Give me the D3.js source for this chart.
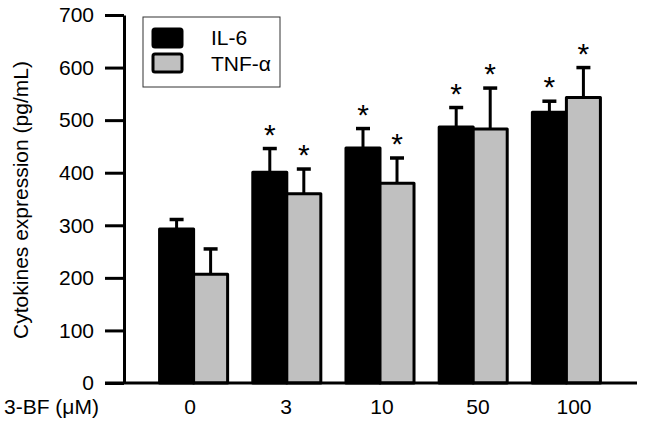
<!DOCTYPE html>
<html>
<head>
<meta charset="utf-8">
<script src="https://cdn.jsdelivr.net/npm/d3@7"></script>
<style>
  body { margin: 0; background: #fff; }
  text { font-family: "Liberation Sans", Arial, sans-serif; fill: #000; }
</style>
</head>
<body>
<div id="chart"></div>
<script>
const doses = ["0", "3", "10", "50", "100"];
const series = ["IL-6", "TNF-\u03b1"];
const il6 = [293, 401, 447, 487, 515];
const il6Err = [18, 45, 37, 37, 21];
const tnf = [207, 360, 380, 483, 543];
const tnfErr = [48, 47, 48, 78, 57];
const significant = [false, true, true, true, true];
const yTicks = [0, 100, 200, 300, 400, 500, 600, 700];

const colors = { "IL-6": "#000", "TNF-\u03b1": "#c0c0c0" };

const rows = doses.flatMap((d, i) => [
    { dose: d, s: series[0], value: il6[i], err: il6Err[i], star: significant[i] },
    { dose: d, s: series[1], value: tnf[i], err: tnfErr[i], star: significant[i] }
]);

const svg = d3.select("#chart")
    .append("svg")
    .attr("width", 646)
    .attr("height", 445);

const y = d3.scaleLinear().domain([0, 700]).range([383, 15]);
const x = d3.scaleBand().domain(doses).range([147, 613]).paddingInner(0.27).paddingOuter(0.135);
const xs = d3.scaleBand().domain(series).range([0, x.bandwidth()]);
const labelX = d3.scalePoint().domain(doses).range([190, 574]);
const mid = d => x(d.dose) + xs(d.s) + xs.bandwidth() / 2;

// bars
svg.append("g").selectAll("rect")
    .data(rows)
    .join("rect")
    .attr("x", d => x(d.dose) + xs(d.s))
    .attr("y", d => y(d.value))
    .attr("width", xs.bandwidth())
    .attr("height", d => y(0) - y(d.value))
    .attr("fill", d => colors[d.s])
    .attr("stroke", "#000")
    .attr("stroke-width", 3)
    .attr("stroke-linejoin", "round");

// error bars (upper only)
const eb = svg.append("g").attr("stroke", "#000").attr("stroke-width", 3);
eb.selectAll("line.v")
    .data(rows)
    .join("line")
    .attr("class", "v")
    .attr("x1", mid)
    .attr("x2", mid)
    .attr("y1", d => y(d.value))
    .attr("y2", d => y(d.value + d.err));
eb.selectAll("line.cap")
    .data(rows)
    .join("line")
    .attr("class", "cap")
    .attr("stroke-width", 3.5)
    .attr("x1", d => mid(d) - 7)
    .attr("x2", d => mid(d) + 7)
    .attr("y1", d => y(d.value + d.err))
    .attr("y2", d => y(d.value + d.err));

// significance stars
svg.append("g").selectAll("text")
    .data(rows.filter(d => d.star))
    .join("text")
    .attr("x", mid)
    .attr("y", d => y(d.value + d.err) - 21 + 17)
    .attr("text-anchor", "middle")
    .style("font-size", "30px")
    .text("*");

// y axis
const yAxis = svg.append("g")
    .attr("transform", "translate(124,0)")
    .call(d3.axisLeft(y).tickValues(yTicks).tickSize(19).tickPadding(11).tickSizeOuter(0));
yAxis.select(".domain").attr("stroke-width", 3);
yAxis.selectAll(".tick line").attr("stroke-width", 3);
yAxis.selectAll(".tick text").style("font-size", "21px").attr("font-family", null);

// x axis baseline
svg.append("line")
    .attr("x1", 105).attr("x2", 637)
    .attr("y1", y(0)).attr("y2", y(0))
    .attr("stroke", "#000").attr("stroke-width", 3);

// x labels
svg.append("g").selectAll("text")
    .data(doses)
    .join("text")
    .attr("x", d => labelX(d))
    .attr("y", 414)
    .attr("text-anchor", "middle")
    .style("font-size", "21px")
    .text(d => d);

svg.append("text")
    .attr("x", 4)
    .attr("y", 414)
    .style("font-size", "21px")
    .text("3-BF (\u03bcM)");

// y label
svg.append("text")
    .attr("transform", "translate(28,200) rotate(-90)")
    .attr("text-anchor", "middle")
    .style("font-size", "21px")
    .text("Cytokines expression (pg/mL)");

// legend
const lg = svg.append("g");
lg.append("rect")
    .attr("x", 143).attr("y", 17).attr("width", 137).attr("height", 70)
    .attr("fill", "#fff").attr("stroke", "#333").attr("stroke-width", 1);
series.forEach((s, i) => {
    lg.append("rect")
        .attr("x", 153).attr("y", 29 + i * 25).attr("width", 29).attr("height", 18)
        .attr("rx", 2)
        .attr("fill", colors[s]).attr("stroke", "#000").attr("stroke-width", 3);
    lg.append("text")
        .attr("x", 211).attr("y", 45 + i * 26)
        .style("font-size", "21px")
        .text(s);
});
</script>
</body>
</html>
